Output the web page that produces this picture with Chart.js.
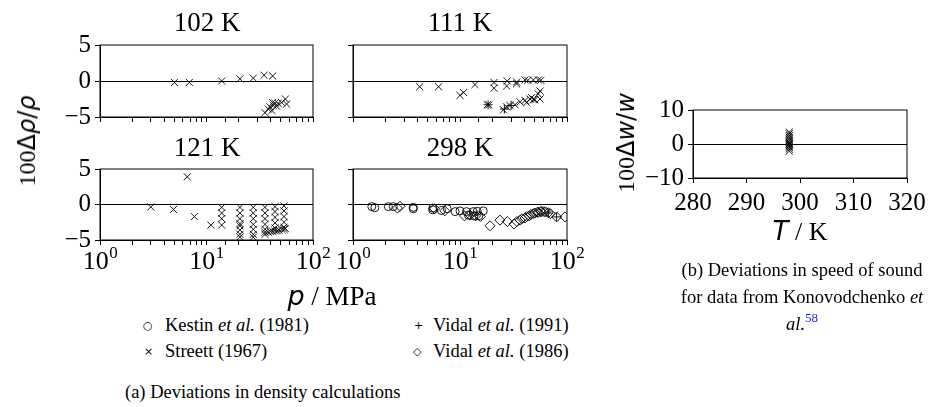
<!DOCTYPE html>
<html>
<head>
<meta charset="utf-8">
<script src="https://cdn.jsdelivr.net/npm/chart.js@4.4.1/dist/chart.umd.min.js"></script>
<style>
  body { margin: 0; background: #fff; width: 928px; height: 407px; overflow: hidden; position: relative;
         font-family: "Liberation Serif", "Times New Roman", serif; color: #000; }
  .t { position: absolute; white-space: nowrap; line-height: 1; }
  .c { transform: translateX(-50%); }
  .s { font-family: "DejaVu Sans"; }
  .si { font-family: "DejaVu Sans"; font-style: italic; }
  .ytitle { position: absolute; white-space: nowrap; line-height: 1; transform: translate(-50%, -50%) rotate(-90deg); font-size: 24px; }
  canvas { position: absolute; }
  sup.ref { color: #1a1aff; font-size: 13px; vertical-align: 8px; }
</style>
</head>
<body>

<canvas id="c102"></canvas>
<canvas id="c111"></canvas>
<canvas id="c121"></canvas>
<canvas id="c298"></canvas>
<canvas id="cSound"></canvas>

<div class="t c" style="left:207px;top:9px;font-size:27px">102 K</div>
<div class="t c" style="left:460px;top:9px;font-size:27px">111 K</div>
<div class="t c" style="left:207px;top:134px;font-size:27px">121 K</div>
<div class="t c" style="left:460px;top:134px;font-size:27px">298 K</div>

<div class="ytitle" style="left:27px;top:141px">100<span class="s">Δ</span><span class="si">ρ</span><span class="s">/</span><span class="si">ρ</span></div>
<div class="ytitle" style="left:626px;top:143px">100<span class="s">Δ</span><span class="si">w</span><span class="s">/</span><span class="si">w</span></div>

<div class="t c" style="left:332px;top:282px;font-size:27px"><span class="si">p</span> / MPa</div>
<div class="t c" style="left:800px;top:218px;font-size:26px"><span class="si">T</span> / K</div>

<!-- legend -->
<div class="t s" style="left:143px;top:320px;font-size:11px">○</div>
<div class="t" style="left:165px;top:316px;font-size:18.5px">Kestin <i>et al.</i> (1981)</div>
<div class="t s" style="left:414px;top:320px;font-size:11px">+</div>
<div class="t" style="left:433px;top:316px;font-size:18.5px">Vidal <i>et al.</i> (1991)</div>
<div class="t s" style="left:144px;top:346px;font-size:11px">×</div>
<div class="t" style="left:165px;top:342px;font-size:18.5px">Streett (1967)</div>
<div class="t s" style="left:413px;top:346px;font-size:11px">◇</div>
<div class="t" style="left:433px;top:342px;font-size:18.5px">Vidal <i>et al.</i> (1986)</div>

<div class="t" style="left:125px;top:383px;font-size:18.5px">(a) Deviations in density calculations</div>
<div class="t c" style="left:802px;top:261px;font-size:18.5px">(b) Deviations in speed of sound</div>
<div class="t c" style="left:802px;top:288px;font-size:18.5px">for data from Konovodchenko <i>et</i></div>
<div class="t c" style="left:802px;top:311px;font-size:18.5px"><i>al.</i><sup class="ref">58</sup></div>

<script>
// ---- data: pressure (MPa) and 100*deviation ----
const p102Streett = [5.0, 6.9, 13.9, 20.6, 27.5, 34.7, 41.8, 35.4, 39.5, 41.8, 42.3, 44.0, 47.0, 50.8, 55.0, 56.5, 41.1, 38.0, 45.5];
const d102Streett = [-0.2, -0.2, 0.0, 0.3, 0.4, 0.8, 0.7, -4.4, -3.6, -3.0, -3.4, -3.1, -3.1, -3.0, -2.5, -3.2, -4.1, -3.9, -3.5];

const p111Streett = [4.2, 6.3, 10.0, 10.8, 13.8, 18.0, 18.6, 20.8, 20.8, 27.6, 27.3, 33.8, 33.8, 40.5, 43.0, 48.5, 54.0, 57.0,
                     25.5, 27.3, 29.3, 32.7, 36.4, 40.5, 42.0, 45.0, 46.7, 48.5, 50.0, 53.8, 56.0, 56.0];
const d111Streett = [-0.8, -0.8, -2.0, -1.6, -0.5, -3.3, -3.3, -0.2, -1.0, 0.0, -0.7, -0.15, -0.4, 0.15, 0.1, 0.15, 0.15, 0.1,
                     -4.0, -3.6, -3.4, -3.3, -2.9, -2.7, -3.0, -2.5, -2.3, -2.6, -2.6, -1.8, -2.5, -1.4];
const p111Vidal91 = [18.3, 26.0, 30.0];
const d111Vidal91 = [-3.3, -3.9, -3.4];

const p121Streett = [3.0, 4.9, 6.6, 7.7, 11.0, 13.9, 13.9, 13.9, 13.9,
                     20.6, 20.6, 20.6, 20.6, 20.6, 20.6, 20.6, 20.6,
                     27.5, 27.5, 27.5, 27.5, 27.5, 27.5, 27.5,
                     35.4, 35.4, 35.4, 35.4, 35.4, 35.4, 35.4,
                     44.0, 44.0, 44.0, 44.0, 44.0, 44.0,
                     53.4, 53.4, 53.4, 53.4, 53.4, 53.4,
                     38.0, 40.0, 42.0, 46.0, 48.0, 51.0, 55.0];
const d121Streett = [-0.35, -0.7, 3.9, -1.7, -2.9, -0.4, -1.2, -2.0, -2.9,
                     -0.4, -1.2, -2.0, -2.7, -3.0, -3.6, -4.2, -4.6,
                     -0.4, -1.2, -2.0, -2.8, -3.5, -4.2, -4.6,
                     -0.4, -1.2, -2.0, -2.8, -3.5, -3.9, -4.2,
                     -0.3, -1.0, -1.8, -2.6, -3.3, -3.7,
                     -0.2, -0.9, -1.7, -2.5, -3.2, -3.5,
                     -3.9, -3.8, -3.8, -3.7, -3.6, -3.5, -3.4];

const p298Kestin = [1.5, 1.6, 2.14, 2.38, 3.66, 3.66, 5.56, 5.56, 6.7, 7.6, 9.0, 10.0, 11.5, 13.3, 14.5, 16.5, 12.0, 13.5, 15.0];
const d298Kestin = [-0.3, -0.45, -0.3, -0.3, -0.4, -0.6, -0.5, -0.75, -0.85, -0.6, -1.0, -0.9, -1.0, -1.0, -0.95, -0.9, -1.5, -1.6, -1.6];
const p298Vidal86 = [2.6, 2.75, 5.8, 7.2, 11.0, 12.4, 14.0, 15.5, 19.1, 23.6, 27.7, 32.0, 36.4, 40.5, 44.4, 48.5, 52.8, 56.8, 61.0, 66.9, 80.0, 95.7,
                     34.0, 38.0, 42.0, 46.0, 50.0, 54.0, 58.0, 63.0, 70.0];
const d298Vidal86 = [-0.5, -0.25, -0.6, -0.9, -1.6, -1.5, -1.6, -1.7, -3.0, -2.2, -2.4, -2.75, -2.2, -1.9, -1.6, -1.3, -1.1, -1.0, -1.0, -1.15, -1.75, -1.75,
                     -2.4, -2.0, -1.7, -1.4, -1.2, -1.1, -1.0, -1.05, -1.3];
const p298Vidal91 = [67.0, 80.0];
const d298Vidal91 = [-1.2, -1.75];

// speed of sound, Konovodchenko et al.
const tSound = [298, 298, 298, 298, 298, 298, 298, 298, 298, 298, 298, 298, 298, 298];
const dSound = [3.5, 3.0, 2.5, 2.0, 1.5, 1.0, 0.5, 0.2, 0.0, -0.3, -0.6, -1.0, -1.5, -2.1];

// axis ticks
const decadeTicks = [1, 10, 100];
const decadeExps = ['0', '1', '2'];
const soundTicks = [280, 290, 300, 310, 320];

const pts = (xs, ys) => xs.map((x, i) => ({ x: x, y: ys[i] }));
const fmt = v => (v < 0 ? '\u2212' + Math.abs(v) : String(v));

const markers = {
  streett: { pointStyle: 'crossRot', pointRadius: 5 },
  kestin: { pointStyle: 'circle', pointRadius: 4 },
  vidal86: { pointStyle: 'rectRot', pointRadius: 5 },
  vidal91: { pointStyle: 'cross', pointRadius: 4.5 },
};

function ds(style, xs, ys) {
  return Object.assign({
    data: pts(xs, ys),
    showLine: false,
    borderColor: '#000',
    backgroundColor: 'rgba(0,0,0,0)',
    borderWidth: 0.9,
    pointHoverRadius: 0,
  }, markers[style]);
}

// box around the plot area
const framePlugin = {
  id: 'frame',
  afterDraw(chart) {
    const { ctx, chartArea: a } = chart;
    ctx.save();
    ctx.strokeStyle = '#000';
    ctx.lineWidth = 1;
    ctx.strokeRect(a.left, a.top, a.right - a.left, a.bottom - a.top);
    ctx.restore();
  },
};

// 10^n labels under the log axes
const powerLabels = {
  id: 'powerLabels',
  afterDraw(chart, args, opts) {
    if (!opts.show) return;
    const ctx = chart.ctx;
    const xs = chart.scales.x;
    const base = chart.chartArea.bottom + 29;
    ctx.save();
    ctx.fillStyle = '#000';
    ctx.textBaseline = 'alphabetic';
    ctx.textAlign = 'left';
    decadeTicks.forEach((v, i) => {
      const px = xs.getPixelForValue(v);
      ctx.font = '26px "Liberation Serif"';
      const w1 = ctx.measureText('10').width;
      ctx.font = '17px "Liberation Serif"';
      const w2 = ctx.measureText(decadeExps[i]).width;
      const x0 = px - (w1 + w2) / 2;
      ctx.font = '26px "Liberation Serif"';
      ctx.fillText('10', x0, base);
      ctx.font = '17px "Liberation Serif"';
      ctx.fillText(decadeExps[i], x0 + w1 + 0.5, base - 11);
    });
    ctx.restore();
  },
};

const PAD_L = 70, PAD_T = 16, PAD_R = 28, PAD_B = 40;

function place(id, box) {
  const cv = document.getElementById(id);
  const w = box.w + PAD_L + PAD_R, h = box.h + PAD_T + PAD_B;
  cv.width = w; cv.height = h;
  cv.style.width = w + 'px'; cv.style.height = h + 'px';
  cv.style.left = (box.l - PAD_L) + 'px';
  cv.style.top = (box.t - PAD_T) + 'px';
  return cv;
}

const tickFont = { family: '"Liberation Serif"', size: 25 };

function yAxis(min, max, step, labels) {
  return {
    type: 'linear', min: min, max: max,
    afterFit: s => { s.width = PAD_L; },
    border: { display: true, color: '#000', width: 1 },
    grid: {
      drawOnChartArea: true,
      color: c => (c.tick && c.tick.value === 0 ? '#000' : 'rgba(0,0,0,0)'),
      tickColor: '#000', tickLength: 5, lineWidth: 1,
    },
    ticks: {
      stepSize: step, padding: 4, color: '#000', font: tickFont,
      callback: v => (labels && v % (step * 2) === 0 ? fmt(v) : ''),
    },
  };
}

function pressurePanel(id, box, datasets, showY, showX) {
  const cv = place(id, box);
  return new Chart(cv, {
    type: 'scatter',
    data: { datasets: datasets },
    plugins: [framePlugin, powerLabels],
    options: {
      responsive: false, animation: false, devicePixelRatio: 1,
      layout: { padding: { left: 0, top: PAD_T, right: PAD_R, bottom: 0 } },
      plugins: { legend: { display: false }, tooltip: { enabled: false }, powerLabels: { show: showX } },
      scales: {
        x: {
          type: 'logarithmic', min: 1, max: 100,
          afterFit: s => { s.height = PAD_B; },
          border: { display: true, color: '#000', width: 1 },
          grid: { drawOnChartArea: false, tickColor: '#000', tickLength: 5, lineWidth: 1 },
          ticks: { autoSkip: false, maxRotation: 0, callback: () => '', font: tickFont },
        },
        y: yAxis(-5, 5, 2.5, showY),
      },
    },
  });
}

pressurePanel('c102', { l: 100, t: 42, w: 213, h: 75 }, [ds('streett', p102Streett, d102Streett)], true, false);
pressurePanel('c111', { l: 353, t: 42, w: 214, h: 75 },
  [ds('streett', p111Streett, d111Streett), ds('vidal91', p111Vidal91, d111Vidal91)], false, false);
pressurePanel('c121', { l: 100, t: 166, w: 213, h: 74 }, [ds('streett', p121Streett, d121Streett)], true, true);
pressurePanel('c298', { l: 353, t: 166, w: 214, h: 74 },
  [ds('kestin', p298Kestin, d298Kestin), ds('vidal86', p298Vidal86, d298Vidal86), ds('vidal91', p298Vidal91, d298Vidal91)], false, true);

// speed of sound panel
(function () {
  const cv = place('cSound', { l: 693, t: 107, w: 214, h: 71 });
  new Chart(cv, {
    type: 'scatter',
    data: { datasets: [ds('streett', tSound, dSound)] },
    plugins: [framePlugin],
    options: {
      responsive: false, animation: false, devicePixelRatio: 1,
      layout: { padding: { left: 0, top: PAD_T, right: PAD_R, bottom: 0 } },
      plugins: { legend: { display: false }, tooltip: { enabled: false } },
      scales: {
        x: {
          type: 'linear', min: soundTicks[0], max: soundTicks[soundTicks.length - 1],
          afterFit: s => { s.height = PAD_B; },
          border: { display: true, color: '#000', width: 1 },
          grid: { drawOnChartArea: false, tickColor: '#000', tickLength: 5, lineWidth: 1 },
          ticks: { stepSize: 10, padding: 5, color: '#000', font: tickFont, maxRotation: 0 },
        },
        y: yAxis(-10, 10, 5, true),
      },
    },
  });
})();
</script>
</body>
</html>
